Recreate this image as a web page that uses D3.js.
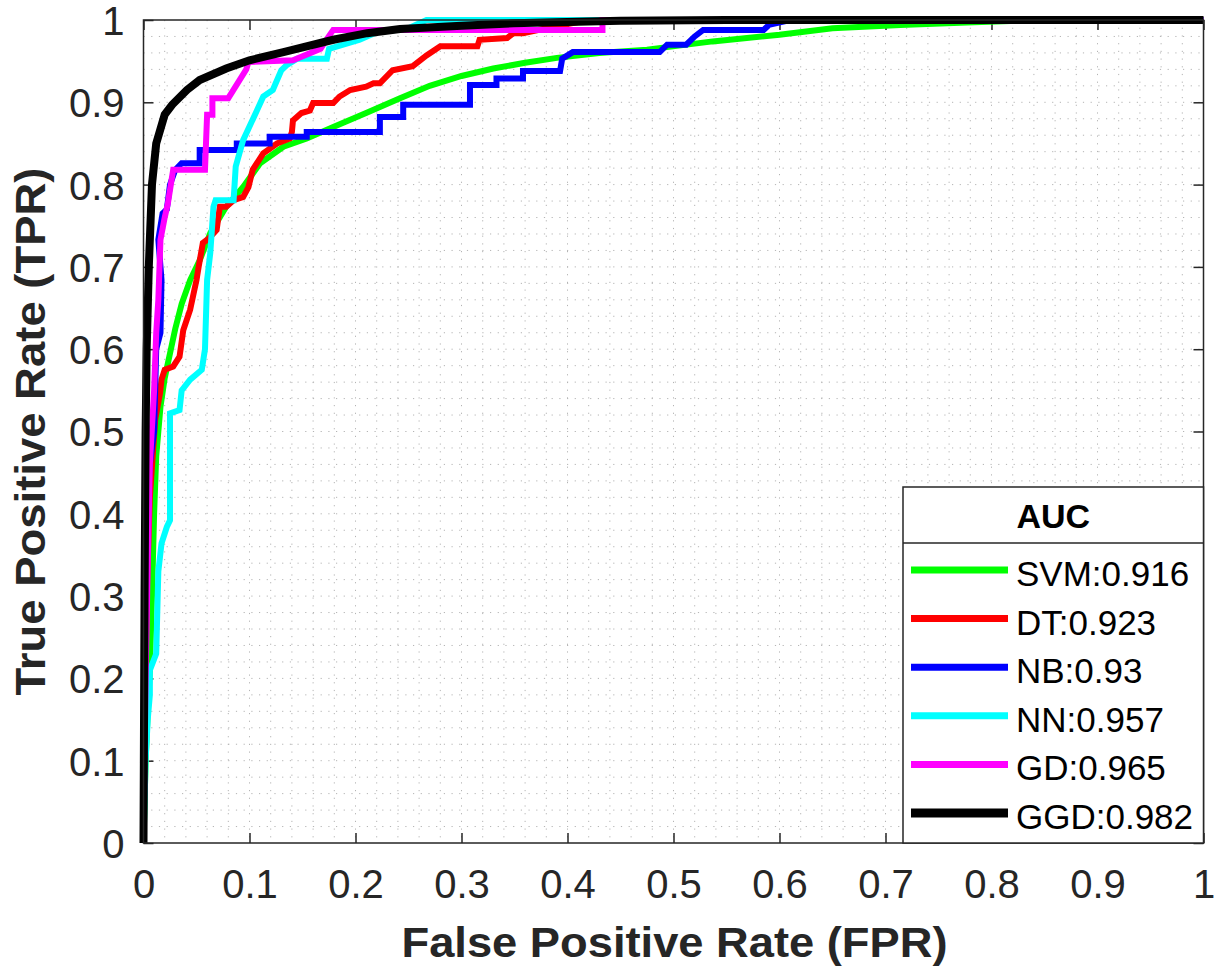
<!DOCTYPE html>
<html>
<head>
<meta charset="utf-8">
<script src="https://cdn.jsdelivr.net/npm/d3@7"></script>
<style>
  html, body { margin: 0; padding: 0; background: #fff; }
  svg { display: block; }
  text { font-family: "Liberation Sans", Arial, Helvetica, sans-serif; }
</style>
</head>
<body>
<svg id="chart" width="1220" height="970"></svg>
<script>
// ---------- data ----------
const seriesNames = ["SVM", "DT", "NB", "NN", "GD", "GGD"];
const aucValues = ["0.916", "0.923", "0.93", "0.957", "0.965", "0.982"];
const seriesColors = ["#00ff00", "#ff0000", "#0000ff", "#00ffff", "#ff00ff", "#000000"];
const tickValues = [0, 0.1, 0.2, 0.3, 0.4, 0.5, 0.6, 0.7, 0.8, 0.9, 1];
const tickLabels = ["0", "0.1", "0.2", "0.3", "0.4", "0.5", "0.6", "0.7", "0.8", "0.9", "1"];
const xTitle = "False Positive Rate (FPR)";
const yTitle = "True Positive Rate (TPR)";
const legendTitle = "AUC";

const svmFPR = [0, 0.002, 0.004, 0.006, 0.008, 0.010, 0.012, 0.016, 0.020, 0.025, 0.030, 0.036, 0.044, 0.053, 0.063, 0.078, 0.094, 0.110, 0.132, 0.154, 0.179, 0.210, 0.242, 0.270, 0.300, 0.330, 0.360, 0.390, 0.430, 0.475, 0.537, 0.600, 0.650, 0.714, 0.777, 0.850, 1.0];
const svmTPR = [0, 0.10, 0.16, 0.21, 0.30, 0.40, 0.47, 0.53, 0.565, 0.595, 0.625, 0.655, 0.684, 0.708, 0.741, 0.773, 0.797, 0.826, 0.846, 0.856, 0.870, 0.887, 0.905, 0.920, 0.932, 0.941, 0.948, 0.954, 0.960, 0.964, 0.974, 0.982, 0.990, 0.994, 0.997, 1.0, 1.0];

const dtFPR = [0, 0.003, 0.006, 0.008, 0.011, 0.0156, 0.017, 0.020, 0.028, 0.034, 0.0375, 0.044, 0.050, 0.052, 0.056, 0.062, 0.069, 0.072, 0.078, 0.085, 0.094, 0.099, 0.103, 0.113, 0.126, 0.138, 0.140, 0.141, 0.149, 0.157, 0.160, 0.179, 0.185, 0.195, 0.210, 0.217, 0.223, 0.235, 0.254, 0.267, 0.280, 0.315, 0.317, 0.343, 0.349, 0.358, 0.380, 0.400, 0.420, 1.0];
const dtTPR = [0, 0.30, 0.42, 0.457, 0.514, 0.547, 0.563, 0.575, 0.579, 0.591, 0.623, 0.648, 0.684, 0.700, 0.729, 0.735, 0.745, 0.773, 0.773, 0.781, 0.785, 0.797, 0.818, 0.838, 0.850, 0.856, 0.864, 0.878, 0.887, 0.890, 0.899, 0.899, 0.907, 0.915, 0.919, 0.923, 0.923, 0.939, 0.944, 0.957, 0.968, 0.968, 0.976, 0.978, 0.984, 0.984, 0.990, 0.995, 1.0, 1.0];

const nbFPR = [0, 0.002, 0.004, 0.006, 0.010, 0.012, 0.016, 0.017, 0.014, 0.018, 0.022, 0.025, 0.030, 0.036, 0.053, 0.053, 0.088, 0.088, 0.119, 0.119, 0.154, 0.154, 0.223, 0.223, 0.245, 0.245, 0.308, 0.308, 0.333, 0.333, 0.358, 0.358, 0.393, 0.395, 0.405, 0.487, 0.494, 0.512, 0.520, 0.528, 0.585, 0.590, 0.610, 1.0];
const nbTPR = [0, 0.30, 0.42, 0.46, 0.50, 0.60, 0.62, 0.684, 0.733, 0.765, 0.770, 0.800, 0.818, 0.826, 0.826, 0.842, 0.842, 0.850, 0.850, 0.858, 0.858, 0.864, 0.864, 0.882, 0.882, 0.897, 0.897, 0.921, 0.921, 0.929, 0.929, 0.938, 0.938, 0.953, 0.961, 0.961, 0.970, 0.970, 0.980, 0.988, 0.988, 0.994, 1.0, 1.0];

const nnFPR = [0, 0.002, 0.004, 0.006, 0.006, 0.012, 0.014, 0.017, 0.022, 0.025, 0.025, 0.034, 0.036, 0.044, 0.055, 0.058, 0.060, 0.063, 0.066, 0.068, 0.085, 0.087, 0.094, 0.107, 0.113, 0.122, 0.130, 0.135, 0.145, 0.173, 0.175, 0.204, 0.220, 0.250, 0.267, 1.0];
const nnTPR = [0, 0.10, 0.15, 0.18, 0.21, 0.23, 0.33, 0.364, 0.384, 0.392, 0.522, 0.526, 0.550, 0.563, 0.575, 0.600, 0.684, 0.717, 0.773, 0.781, 0.781, 0.822, 0.854, 0.890, 0.907, 0.915, 0.939, 0.945, 0.953, 0.953, 0.965, 0.976, 0.985, 0.990, 1.0, 1.0];

const gdFPR = [0, 0.002, 0.004, 0.006, 0.010, 0.012, 0.014, 0.016, 0.020, 0.023, 0.028, 0.058, 0.060, 0.065, 0.065, 0.080, 0.097, 0.099, 0.141, 0.167, 0.172, 0.179, 0.433, 0.433, 1.0];
const gdTPR = [0, 0.20, 0.34, 0.46, 0.55, 0.62, 0.66, 0.733, 0.760, 0.777, 0.818, 0.818, 0.885, 0.885, 0.905, 0.905, 0.940, 0.949, 0.951, 0.965, 0.975, 0.988, 0.988, 1.0, 1.0];

const ggdFPR = [0, 0.001, 0.002, 0.003, 0.005, 0.008, 0.012, 0.020, 0.027, 0.041, 0.053, 0.078, 0.100, 0.132, 0.179, 0.211, 0.242, 0.300, 0.349, 0.450, 0.550, 1.0];
const ggdTPR = [0, 0.30, 0.50, 0.60, 0.70, 0.80, 0.85, 0.885, 0.897, 0.915, 0.927, 0.941, 0.951, 0.961, 0.976, 0.984, 0.989, 0.993, 0.996, 0.999, 1.0, 1.0];

const seriesFPR = [svmFPR, dtFPR, nbFPR, nnFPR, gdFPR, ggdFPR];
const seriesTPR = [svmTPR, dtTPR, nbTPR, nnTPR, gdTPR, ggdTPR];

// ---------- layout ----------
const L = 143.5, R = 1203.5, T = 20, B = 843;
const fontFam = '"Liberation Sans", Arial, Helvetica, sans-serif';
const axisColor = "#262626";

const svg = d3.select("#chart");
const x = d3.scaleLinear().domain([0, 1]).range([L, R]);
const y = d3.scaleLinear().domain([0, 1]).range([B, T]);

// grid (dotted, every 0.02)
const gridVals = d3.range(0, 51).map(i => i / 50);
const grid = svg.append("g");
grid.selectAll("line.gx").data(gridVals.slice(1, -1)).enter().append("line")
  .attr("x1", d => x(d)).attr("x2", d => x(d)).attr("y1", T).attr("y2", B)
  .attr("stroke", "#b4b4b4").attr("stroke-width", 1).attr("stroke-dasharray", "1.2,6.5");
grid.selectAll("line.gy").data(gridVals.slice(1, -1)).enter().append("line")
  .attr("y1", d => y(d)).attr("y2", d => y(d)).attr("x1", L).attr("x2", R)
  .attr("stroke", "#b4b4b4").attr("stroke-width", 1).attr("stroke-dasharray", "1.2,6.5");

// axes with inward ticks on all four sides
const tickFmt = (d) => tickLabels[tickValues.indexOf(d)];
const axB = svg.append("g").attr("transform", `translate(0,${B})`)
  .call(d3.axisBottom(x).tickValues(tickValues).tickFormat(tickFmt).tickSizeInner(-10).tickSizeOuter(0).tickPadding(20));
const axL = svg.append("g").attr("transform", `translate(${L},0)`)
  .call(d3.axisLeft(y).tickValues(tickValues).tickFormat(tickFmt).tickSizeInner(-10).tickSizeOuter(0).tickPadding(19));
const axT = svg.append("g").attr("transform", `translate(0,${T})`)
  .call(d3.axisTop(x).tickValues(tickValues).tickFormat("").tickSizeInner(-10).tickSizeOuter(0));
const axR = svg.append("g").attr("transform", `translate(${R},0)`)
  .call(d3.axisRight(y).tickValues(tickValues).tickFormat("").tickSizeInner(-10).tickSizeOuter(0));
[axB, axL, axT, axR].forEach(a => {
  a.select(".domain").remove();
  a.selectAll(".tick line").attr("stroke", axisColor).attr("stroke-width", 1.5);
  a.selectAll(".tick text").attr("fill", axisColor).style("font-family", fontFam).style("font-size", "40px");
});
axB.selectAll(".tick text").attr("dy", null).attr("y", 55);
axL.selectAll(".tick text").attr("dy", "0.36em");

// curves
const line = d3.line().x(d => x(d[0])).y(d => y(d[1])).curve(d3.curveLinear);
const curves = svg.append("g");
seriesNames.forEach((name, i) => {
  const pts = seriesFPR[i].map((f, j) => [f, seriesTPR[i][j]]);
  curves.append("path").datum(pts)
    .attr("d", line)
    .attr("fill", "none")
    .attr("stroke", seriesColors[i])
    .attr("stroke-width", name === "GGD" ? 8 : 6)
    .attr("stroke-linejoin", "miter")
    .attr("stroke-linecap", "butt");
});

// box
svg.append("rect").attr("x", L).attr("y", T).attr("width", R - L).attr("height", B - T)
  .attr("fill", "none").attr("stroke", axisColor).attr("stroke-width", 1.5);

// legend
const lgX0 = 903, lgX1 = R, lgY0 = 487, lgY1 = B, lgHead = 543;
const lg = svg.append("g");
lg.append("rect").attr("x", lgX0).attr("y", lgY0).attr("width", lgX1 - lgX0).attr("height", lgY1 - lgY0)
  .attr("fill", "#fff").attr("stroke", axisColor).attr("stroke-width", 1.5);
lg.append("line").attr("x1", lgX0).attr("x2", lgX1).attr("y1", lgHead).attr("y2", lgHead)
  .attr("stroke", axisColor).attr("stroke-width", 1.5);
lg.append("text").attr("x", (lgX0 + lgX1) / 2).attr("y", 528).attr("text-anchor", "middle")
  .style("font-size", "34px").style("font-weight", "bold").attr("fill", "#000").text(legendTitle);
const rowY = d3.scaleLinear().domain([0, seriesNames.length - 1]).range([570, 813]);
seriesNames.forEach((name, i) => {
  const yy = rowY(i);
  lg.append("line").attr("x1", 911).attr("x2", 1008).attr("y1", yy).attr("y2", yy)
    .attr("stroke", seriesColors[i]).attr("stroke-width", name === "GGD" ? 9 : 7);
  lg.append("text").attr("x", 1016).attr("y", yy + 16)
    .style("font-size", "35px").attr("fill", "#000").text(name + ":" + aucValues[i]);
});

// axis titles
svg.append("text").attr("x", (L + R) / 2 + 1).attr("y", 957).attr("text-anchor", "middle")
  .style("font-size", "42px").style("font-weight", "bold").attr("fill", axisColor)
  .attr("textLength", 546).attr("lengthAdjust", "spacingAndGlyphs").text(xTitle);
svg.append("text").attr("transform", `translate(45,${(T + B) / 2}) rotate(-90)`).attr("text-anchor", "middle")
  .style("font-size", "42px").style("font-weight", "bold").attr("fill", axisColor)
  .attr("textLength", 528).attr("lengthAdjust", "spacingAndGlyphs").text(yTitle);
</script>
</body>
</html>
